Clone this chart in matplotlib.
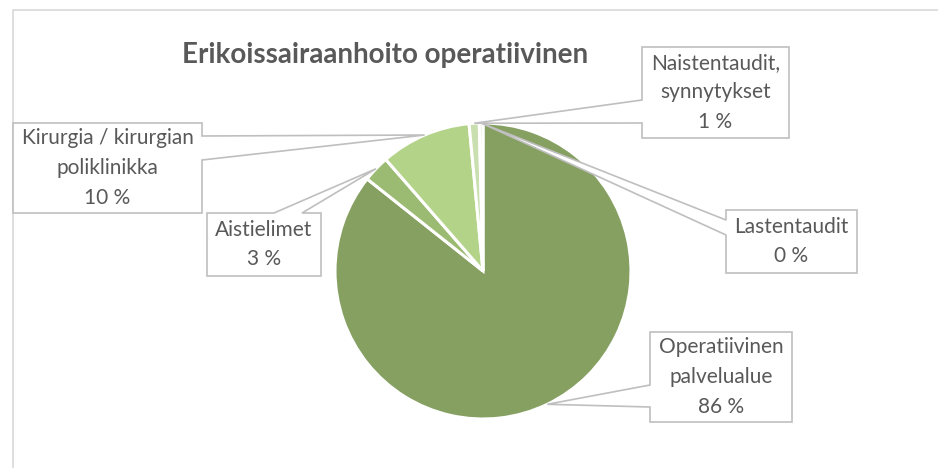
import numpy as np
import matplotlib.pyplot as plt
from matplotlib.patches import Polygon

# Données du graphique (parts en %)
categories = ["Operatiivinen\npalvelualue", "Aistielimet", "Kirurgia / kirurgian\npoliklinikka",
              "Naistentaudit,\nsynnytykset", "Lastentaudit"]
values = [85.6, 2.9, 9.9, 1.1, 0.4]
colors = ["#86A062", "#9BBB72", "#B3D389", "#C9DFB0", "#DCEBC9"]
title = "Erikoissairaanhoito operatiivinen"

W, H = 938, 468
plt.rcParams['font.family'] = ['Lato', 'DejaVu Sans']
txt_col = "#595959"
line_col = "#BFBFBF"

fig = plt.figure(figsize=(W / 100, H / 100), dpi=100)
ax = fig.add_axes([0, 0, 1, 1])

cx, cy, r = 483, H - 271, 148
wedges, _ = ax.pie(values, colors=colors, startangle=90, counterclock=False,
                   center=(cx, cy), radius=r,
                   wedgeprops=dict(edgecolor="white", linewidth=2.2))
ax.set_xlim(0, W)
ax.set_ylim(0, H)
ax.set_aspect("equal")
ax.axis("off")

# cadre du graphique
ax.plot([13, 13, W], [0, H - 10, H - 10], color="#D9D9D9", lw=1.2, zorder=1)

ax.text(385, H - 55, title, ha="center", va="center", fontsize=20,
        fontweight="bold", color=txt_col)

# boîtes d'étiquettes (x0, y0, x1, y1 en pixels depuis le haut) + points d'attache
boxes = [
    ((650, 332, 792, 422), "left", (385, 407)),
    ((207, 213, 321, 276), "top", (274, 302)),
    ((13, 123, 202, 213), "right", (136, 160)),
    ((642, 47, 789, 138), "left", (100, 123)),
    ((726, 210, 857, 273), "left", (220, 235)),
]

total = sum(values)
for w, name, v, (box, side, (a, b)) in zip(wedges, categories, values, boxes):
    mid = np.deg2rad((w.theta1 + w.theta2) / 2)
    px = cx + r * np.cos(mid)
    py = cy + r * np.sin(mid)
    x0, y0, x1, y1 = box
    y0, y1 = H - y0, H - y1
    if side == "left":
        pts = [(x0, y0), (x1, y0), (x1, y1), (x0, y1), (x0, H - b), (px, py), (x0, H - a)]
    elif side == "right":
        pts = [(x0, y0), (x1, y0), (x1, H - a), (px, py), (x1, H - b), (x1, y1), (x0, y1)]
    else:
        pts = [(x0, y0), (a, y0), (px, py), (b, y0), (x1, y0), (x1, y1), (x0, y1)]
    ax.add_patch(Polygon(pts, closed=True, facecolor="white", edgecolor=line_col,
                         lw=1.2, zorder=3))
    pct = round(v / total * 100)
    ax.text((x0 + x1) / 2, (y0 + y1) / 2, f"{name}\n{pct} %", ha="center", va="center",
            fontsize=15, color=txt_col, linespacing=1.6, zorder=4)

fig.savefig("out.png", dpi=100)
